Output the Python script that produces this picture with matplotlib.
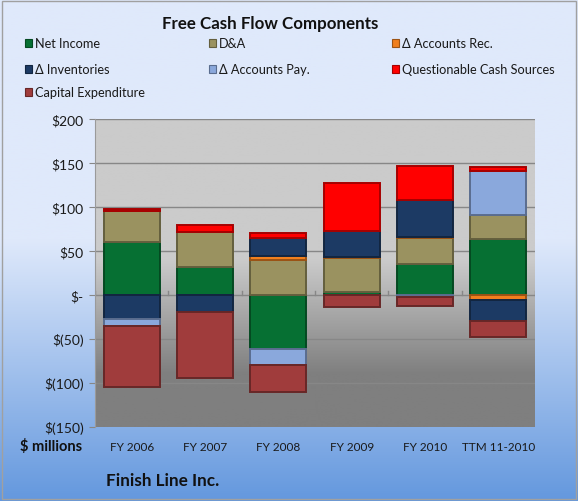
import numpy as np
import matplotlib
matplotlib.use("Agg")
import matplotlib.pyplot as plt
from matplotlib.patches import Rectangle
from matplotlib.colors import to_rgb

categories = ["FY 2006", "FY 2007", "FY 2008", "FY 2009", "FY 2010", "TTM 11-2010"]
series_names = ["Net Income", "D&A", "\u0394 Accounts Rec.", "\u0394 Inventories",
                "\u0394 Accounts Pay.", "Questionable Cash Sources", "Capital Expenditure"]
net_income = [60, 32, -61, 3, 35, 64]
d_and_a = [35, 40, 40, 39, 30, 27]
accounts_rec = [1, 0, 4.5, 1.5, 1, -6]
inventories = [-27, -19, 20, 29, 42, -24]
accounts_pay = [-8, 0, -19, 0, -2, 50]
questionable = [1.5, 8, 6.5, 55, 39, 5]
capex = [-70, -75, -30, -14, -10, -18]
series_values = [net_income, d_and_a, accounts_rec, inventories, accounts_pay, questionable, capex]
colors = ["#067033", "#9a9260", "#f07f1e", "#1c3a64", "#8aa8dc", "#ff0000", "#a03c3c"]
yticks = [-150, -100, -50, 0, 50, 100, 150, 200]
ytick_labels = ["$(150)", "$(100)", "$(50)", "$-", "$50", "$100", "$150", "$200"]

plt.rcParams['font.family'] = ['Lato', 'DejaVu Sans']

W, H = 578, 502
fig = plt.figure(figsize=(W / 100, H / 100), dpi=100)

# figure background gradient
bg = fig.add_axes([0, 0, 1, 1], zorder=-10)
t = np.linspace(0, 1, 256)
top = np.array(to_rgb("#dfe9fb"))
bot = np.array(to_rgb("#6498de"))
frac = np.clip((t - 0.48) / 0.52, 0, 1)
grad = top[None, :] * (1 - frac[:, None]) + bot[None, :] * frac[:, None]
bg.imshow(grad[:, None, :], aspect='auto', extent=[0, 1, 0, 1], origin='upper')
bg.add_patch(Rectangle((0.003, 0.003), 0.994, 0.994, fill=False, edgecolor="#a0a0a0", lw=1))
bg.set_xlim(0, 1); bg.set_ylim(0, 1)
bg.axis('off')

left, right, ytop, ybot = 95, 535, 120, 428
ax = fig.add_axes([left / W, (H - ybot) / H, (right - left) / W, (ybot - ytop) / H])
ax.set_xlim(-0.5, len(categories) - 0.5)
ax.set_ylim(-150, 200)

# plot area gradient
yy = np.linspace(200, -150, 300)
lt = np.array(to_rgb("#cbcbcb"))
dk = np.array(to_rgb("#7f7f7f"))
f2 = np.clip((40 - yy) / 130, 0, 1)
pg = lt[None, :] * (1 - f2[:, None]) + dk[None, :] * f2[:, None]
ax.imshow(pg[:, None, :], aspect='auto', extent=[-0.5, len(categories) - 0.5, -150, 200],
          origin='upper', zorder=0)

for yv in yticks[1:]:
    ax.axhline(yv, color="#878787", lw=1, zorder=1)

def darker(c, f=0.65):
    r = np.array(to_rgb(c)) * f
    return tuple(r)

x = np.arange(len(categories))
pos_bottom = np.zeros(len(categories))
neg_bottom = np.zeros(len(categories))
for name, vals, col in zip(series_names, series_values, colors):
    v = np.array(vals, dtype=float)
    b = np.where(v >= 0, pos_bottom, neg_bottom)
    ax.bar(x, v, 0.76, bottom=b, color=col, edgecolor=darker(col), lw=1.4, zorder=3)
    pos_bottom = pos_bottom + np.where(v > 0, v, 0)
    neg_bottom = neg_bottom + np.where(v < 0, v, 0)

# category tick marks on zero line
for xb in np.arange(-0.5, len(categories) + 0.5, 1.0):
    ax.plot([xb, xb], [0, 4.5], color="#878787", lw=1, zorder=2)

ax.set_yticks(yticks)
ax.set_yticklabels(ytick_labels, fontsize=10, color="#1a1a1a")
ax.set_xticks(x)
ax.set_xticklabels(categories, fontsize=8.5, color="#1a1a1a")
ax.tick_params(axis='y', length=4, color="#878787", pad=4)
ax.tick_params(axis='x', length=0, pad=10)
for s in ax.spines.values():
    s.set_visible(False)
ax.spines['left'].set_visible(True)
ax.spines['left'].set_color("#9a9a9a")

fig.text(270 / W, 1 - 24 / H, "Free Cash Flow Components", ha='center', va='center',
         fontsize=12.2, fontweight='bold', color="#111111")
fig.text(51 / W, 1 - 447 / H, "$ millions", ha='center', va='center',
         fontsize=10.5, fontweight='bold', color="#111111")
fig.text(106 / W, 1 - 481 / H, "Finish Line Inc.", ha='left', va='center',
         fontsize=12.3, fontweight='bold', color="#111111")

# legend
col_x = [25, 209, 392]
row_y = [44, 70, 93]
for i, (name, col) in enumerate(zip(series_names, colors)):
    c, r = i % 3, i // 3
    sx, sy = col_x[c], row_y[r]
    fig.patches.append(Rectangle((sx / W, 1 - (sy + 4) / H), 7 / W, 8 / H,
                                 facecolor=col, edgecolor=darker(col), lw=0.8,
                                 transform=fig.transFigure, figure=fig))
    fig.text((sx + 10) / W, 1 - sy / H, name, ha='left', va='center', fontsize=9.2,
             color="#1a1a1a")

fig.savefig("out.png", dpi=100)
